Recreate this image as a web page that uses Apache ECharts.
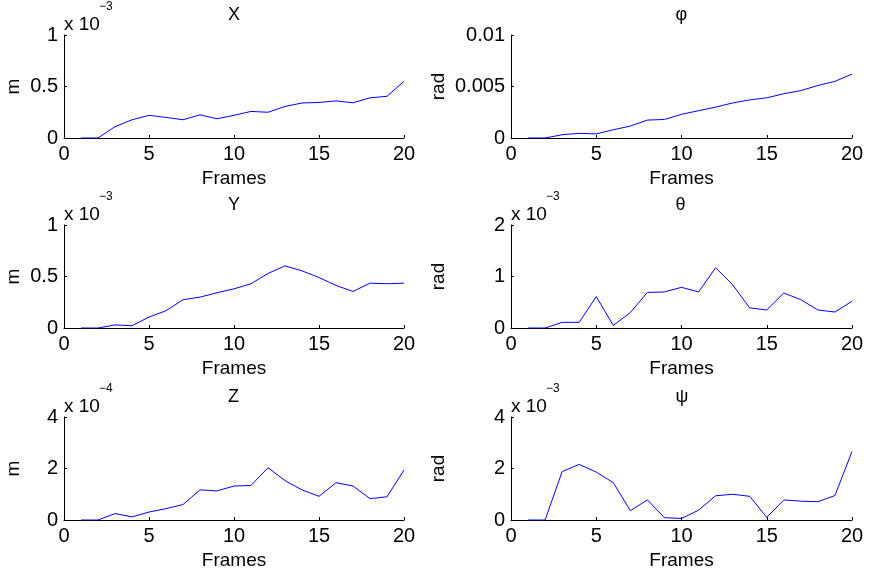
<!DOCTYPE html>
<html><head><meta charset="utf-8">
<script src="https://cdn.jsdelivr.net/npm/echarts@6/dist/echarts.min.js"></script>
<style>html,body{margin:0;padding:0;background:#fff}#c{width:871px;height:571px}</style>
</head><body><div id="c"></div>
<script>
// frames (x)
const frames = [1,2,3,4,5,6,7,8,9,10,11,12,13,14,15,16,17,18,19,20];
// X position (units of 1e-3 m)
const xVals = [0,0,0.11,0.177,0.22,0.20,0.177,0.225,0.187,0.22,0.258,0.25,0.306,0.34,0.345,0.36,0.342,0.39,0.405,0.55];
// Y position (units of 1e-3 m)
const yVals = [0,0,0.03,0.022,0.106,0.168,0.274,0.30,0.342,0.38,0.43,0.53,0.603,0.555,0.49,0.413,0.355,0.435,0.43,0.435];
// Z position (units of 1e-4 m)
const zVals = [0,0,0.25,0.12,0.31,0.44,0.60,1.17,1.13,1.32,1.34,2.03,1.53,1.17,0.92,1.45,1.32,0.83,0.90,1.94];
// phi (rad)
const phiVals = [0,0,0.00032,0.00045,0.0004,0.0008,0.00116,0.00174,0.0018,0.0023,0.00265,0.0030,0.0034,0.0037,0.0039,0.0043,0.0046,0.0051,0.0055,0.0062];
// theta (units of 1e-3 rad)
const thetaVals = [0,0,0.11,0.11,0.61,0.05,0.30,0.69,0.70,0.79,0.70,1.17,0.84,0.39,0.35,0.68,0.55,0.35,0.31,0.52];
// psi (units of 1e-3 rad)
const psiVals = [0,0,1.88,2.16,1.86,1.45,0.36,0.78,0.09,0.06,0.38,0.94,1.00,0.92,0.10,0.78,0.73,0.71,0.95,2.66];

const titles = ['X','φ','Y','θ','Z','ψ'];
const yNames = ['m','rad','m','rad','m','rad'];
const exps = ['−3','','−3','−3','−4','−3'];
const yMax = [1,0.01,1,2,4,4];
const yInt = [0.5,0.005,0.5,1,2,2];
const xTicks = [0,20,5];
const series = [xVals,phiVals,yVals,thetaVals,zVals,psiVals];

const FONT = '"Liberation Sans", Arial, Helvetica, sans-serif';
const FS = 20, NFS = 19, TFS = 18;
const lefts = [64,511], widths = [340,341], tops = [35,225,417], H = 103;

const grids=[], xAxes=[], yAxes=[], ser=[], graphics=[];
for (let i=0;i<6;i++){
  const col=i%2,row=Math.floor(i/2);
  const L=lefts[col],W=widths[col],T=tops[row];
  grids.push({left:L,top:T,width:W,height:H,containLabel:false});
  xAxes.push({type:'value',gridIndex:i,min:xTicks[0],max:xTicks[1],interval:xTicks[2],
    name:'Frames',nameLocation:'middle',nameGap:31,
    nameTextStyle:{color:'#000',fontSize:NFS,fontFamily:FONT},
    axisLine:{show:true,onZero:false,lineStyle:{color:'#000',width:1}},
    axisTick:{show:true,inside:true,length:3,lineStyle:{color:'#000'}},
    axisLabel:{color:'#000',fontSize:FS,fontFamily:FONT,margin:6},
    splitLine:{show:false}});
  yAxes.push({type:'value',gridIndex:i,min:0,max:yMax[i],interval:yInt[i],
    name:yNames[i],nameLocation:'middle',nameGap: col===0?41:63,nameRotate:90,
    nameTextStyle:{color:'#000',fontSize:NFS,fontFamily:FONT},
    axisLine:{show:true,onZero:false,lineStyle:{color:'#000',width:1}},
    axisTick:{show:true,inside:true,length:3,lineStyle:{color:'#000'}},
    axisLabel:{color:'#000',fontSize:FS,fontFamily:FONT,margin:6},
    splitLine:{show:false}});
  ser.push({type:'line',xAxisIndex:i,yAxisIndex:i,showSymbol:false,symbol:'none',
    lineStyle:{color:'#0000ff',width:1},data:frames.map((f,k)=>[f,series[i][k]])});
  graphics.push({type:'text',left:L+W/2-6,top:T-29,style:{text:titles[i],font:TFS+'px '+FONT,fill:'#000'}});
  if (exps[i]){
    graphics.push({type:'text',left:L,top:T-20,style:{text:'x 10',font:'19px '+FONT,fill:'#000'}});
    graphics.push({type:'text',left:L+35,top:T-34,style:{text:exps[i],font:'12px '+FONT,fill:'#000'}});
  }
}
const chart = echarts.init(document.getElementById('c'));
chart.setOption({animation:false,backgroundColor:'#fff',grid:grids,xAxis:xAxes,yAxis:yAxes,series:ser,graphic:graphics});
</script></body></html>
